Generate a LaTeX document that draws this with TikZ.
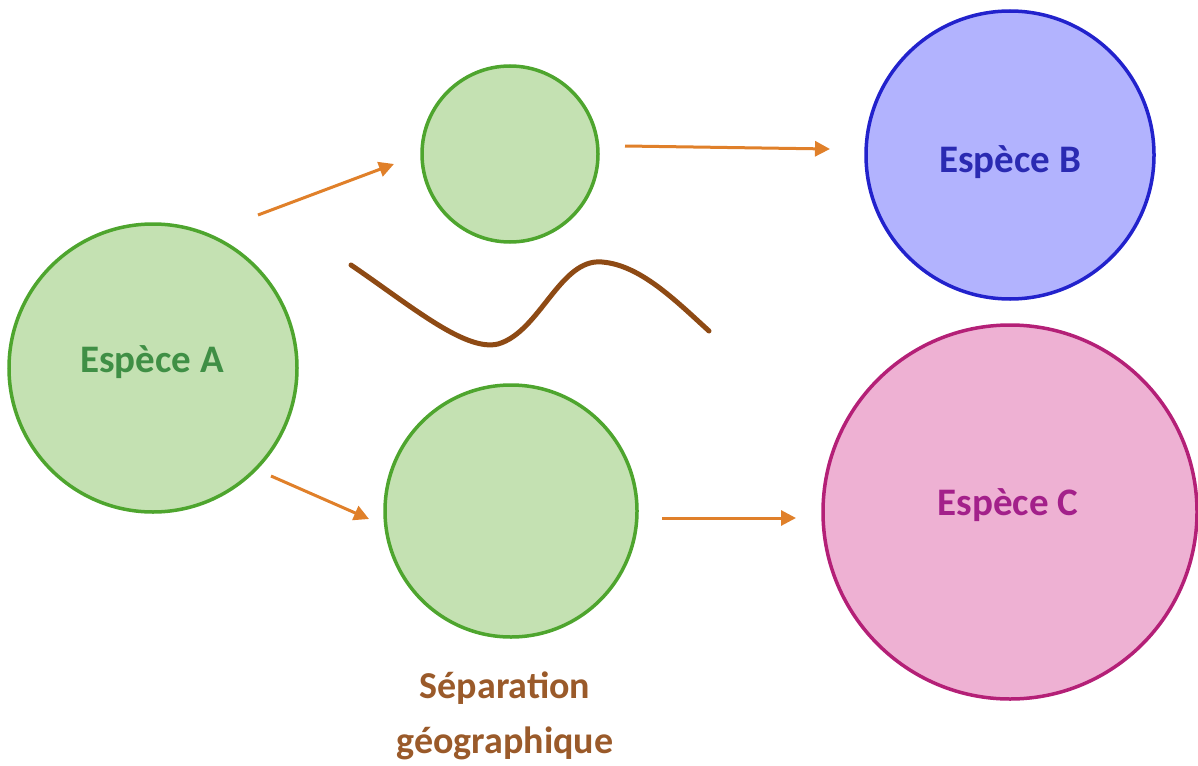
\documentclass[tikz,border=0pt]{standalone}
\usepackage{fontspec}
\setmainfont{Carlito}
\usetikzlibrary{arrows.meta}
\definecolor{grfill}{HTML}{C4E1B2}
\definecolor{grline}{HTML}{4EA52E}
\definecolor{grtext}{HTML}{3F8F45}
\definecolor{blfill}{HTML}{B2B3FE}
\definecolor{blline}{HTML}{2222CC}
\definecolor{bltext}{HTML}{2A2AB2}
\definecolor{pkfill}{HTML}{EEB1D3}
\definecolor{pkline}{HTML}{B42077}
\definecolor{pktext}{HTML}{A3208A}
\definecolor{arr}{HTML}{E0802A}
\definecolor{brn}{HTML}{8E4A14}
\definecolor{lbl}{HTML}{9A5A2A}
\tikzset{
  circ/.style={circle, line width=3.5pt, inner sep=0pt},
  gcirc/.style={circ, draw=grline, fill=grfill},
  bcirc/.style={circ, draw=blline, fill=blfill},
  pcirc/.style={circ, draw=pkline, fill=pkfill},
  ctext/.style={font=\fontsize{39}{44}\selectfont\bfseries, inner sep=0pt},
  flow/.style={draw=arr, line width=3pt, -{Triangle[length=15pt,width=15pt]}},
  lab/.style={text=lbl, font=\fontsize{38}{55}\selectfont\bfseries, align=center}
}
\begin{document}
\begin{tikzpicture}[x=1pt,y=-1pt]
\useasboundingbox (0,0) rectangle (1198,765);
\node[gcirc, minimum size=288pt] (A) at (153,368) {};
\node[gcirc, minimum size=176pt] (top) at (510,154) {};
\node[gcirc, minimum size=252pt] (bot) at (511,511) {};
\node[bcirc, minimum size=288pt] (B) at (1010,155) {};
\node[pcirc, minimum size=374pt] (C) at (1010,512) {};
\node[ctext, text=grtext] (Alab) at (152,362) {Espèce A};
\node[ctext, text=bltext] (Blab) at (1010,162) {Espèce B};
\node[ctext, text=pktext] (Clab) at (1008,505) {Espèce C};
\coordinate (a1s) at (258,215); \coordinate (a1e) at (394,164);
\coordinate (a2s) at (625,146); \coordinate (a2e) at (830,149);
\coordinate (a3s) at (271,476); \coordinate (a3e) at (369,519);
\coordinate (a4s) at (662,518); \coordinate (a4e) at (796,518);
\draw[flow] (a1s) -- (a1e);
\draw[flow] (a2s) -- (a2e);
\draw[flow] (a3s) -- (a3e);
\draw[flow] (a4s) -- (a4e);
\coordinate (w0) at (351,265);
\coordinate (w1) at (498,344);
\coordinate (w2) at (602,262);
\coordinate (w3) at (709,331);
\draw[brn, line width=5pt, line cap=round] (w0) .. controls (410,305) and (465,352) .. (w1) .. controls (540,332) and (560,258) .. (w2) .. controls (640,265) and (675,300) .. (w3);
\node[lab] (sep) at (505,716) {Séparation\\géographique};
\end{tikzpicture}
\end{document}
